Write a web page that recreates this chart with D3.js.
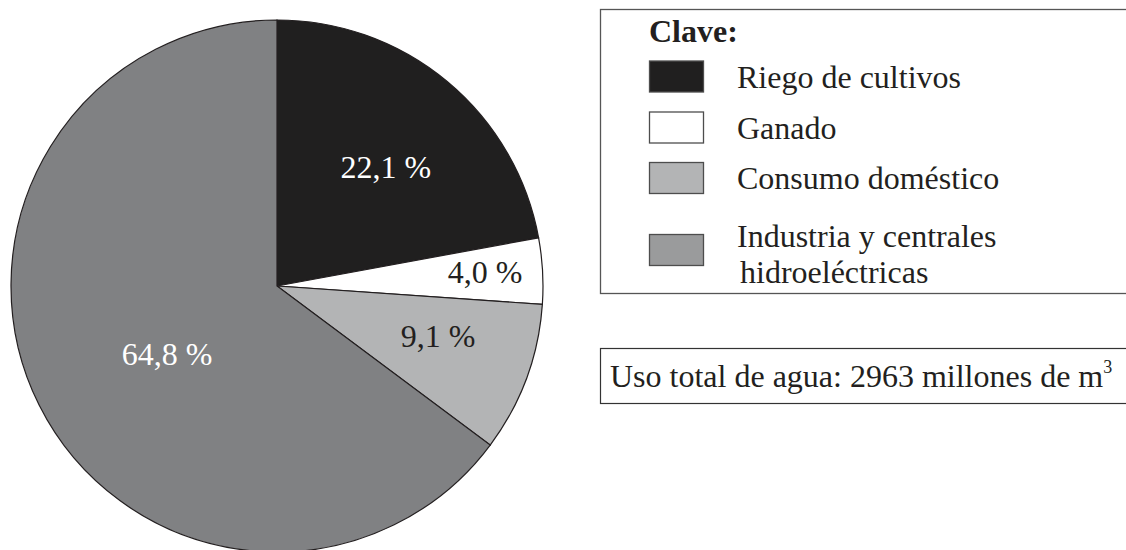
<!DOCTYPE html>
<html>
<head>
<meta charset="utf-8">
<script src="https://cdn.jsdelivr.net/npm/d3@7"></script>
<style>
  body { margin: 0; background: #fff; }
  text { font-family: "Liberation Serif", "Times New Roman", serif; fill: #231f20; }
</style>
</head>
<body>
<div id="chart"></div>
<script>
// data
const categories = ["Riego de cultivos", "Ganado", "Consumo doméstico", "Industria y centrales hidroeléctricas"];
const shares = [22.1, 4.0, 9.1, 64.8];
const shareLabels = ["22,1 %", "4,0 %", "9,1 %", "64,8 %"];
const totalText = "Uso total de agua: 2963 millones de m";

const width = 1126,
  height = 550;
const cx = 277,
  cy = 286,
  radius = 266;
const fontSize = 32;

const pieFill = ["#201f1f", "#ffffff", "#b3b4b5", "#808183"];
const swatchFill = ["#201f1f", "#ffffff", "#b3b4b5", "#9a9b9c"];
const labelFill = ["#ffffff", "#231f20", "#231f20", "#ffffff"];
// label placement: fraction of radius, angle tweak (rad)
const labelPlace = [
  [0.606, 0.047],
  [0.784, -0.011],
  [0.634, -0.054],
  [0.486, -0.088],
];

const svg = d3.select("#chart").append("svg").attr("width", width).attr("height", height);

const color = d3.scaleOrdinal().domain(categories).range(pieFill);

const pie = d3.pie().value((d) => d.value).sort(null);
const arcs = pie(categories.map((c, i) => ({ name: c, value: shares[i], label: shareLabels[i] })));
const arc = d3.arc().innerRadius(0).outerRadius(radius);

const g = svg.append("g").attr("transform", `translate(${cx},${cy})`);

g.selectAll("path")
  .data(arcs)
  .join("path")
  .attr("d", arc)
  .attr("fill", (d) => color(d.data.name))
  .attr("stroke", "#231f20")
  .attr("stroke-width", 1.2);

const labelAngle = (d, i) => (d.startAngle + d.endAngle) / 2 + labelPlace[i][1];

g.selectAll("text.pct")
  .data(arcs)
  .join("text")
  .attr("class", "pct")
  .attr("text-anchor", "middle")
  .attr("font-size", fontSize)
  .style("fill", (d, i) => labelFill[i])
  .attr("x", (d, i) => Math.sin(labelAngle(d, i)) * radius * labelPlace[i][0])
  .attr("y", (d, i) => -Math.cos(labelAngle(d, i)) * radius * labelPlace[i][0] + 11)
  .text((d) => d.data.label);

// legend
const legend = svg.append("g");
legend.append("rect").attr("x", 600.5).attr("y", 9.5).attr("width", 540).attr("height", 284).attr("fill", "none").attr("stroke", "#555").attr("stroke-width", 1.3);
legend.append("text").attr("x", 649).attr("y", 42).attr("font-size", fontSize).attr("font-weight", "bold").text("Clave:");

const rowY = [76.5, 127.5, 178, 250];
const rows = legend
  .selectAll("g.row")
  .data(categories)
  .join("g")
  .attr("class", "row")
  .attr("transform", (d, i) => `translate(0,${rowY[i]})`);

rows
  .append("rect")
  .attr("x", 649.5)
  .attr("y", -15.5)
  .attr("width", 54)
  .attr("height", 31)
  .attr("fill", (d, i) => swatchFill[i])
  .attr("stroke", "#4d4d4d")
  .attr("stroke-width", 1.3);

rows.each(function (d, i) {
  const t = d3.select(this).append("text").attr("x", 737).attr("font-size", fontSize);
  if (i === 3) {
    t.append("tspan").attr("x", 737).attr("y", -3).text("Industria y centrales");
    t.append("tspan").attr("x", 740).attr("y", 33).text("hidroeléctricas");
  } else {
    t.attr("y", 11).text(d);
  }
});

// total box
svg.append("rect").attr("x", 600.5).attr("y", 348.5).attr("width", 540).attr("height", 55).attr("fill", "none").attr("stroke", "#333").attr("stroke-width", 1.2);
const tt = svg.append("text").attr("x", 610).attr("y", 387).attr("font-size", fontSize);
tt.append("tspan").text(totalText);
tt.append("tspan").attr("font-size", 18).attr("dy", -14).text("3");
</script>
</body>
</html>
